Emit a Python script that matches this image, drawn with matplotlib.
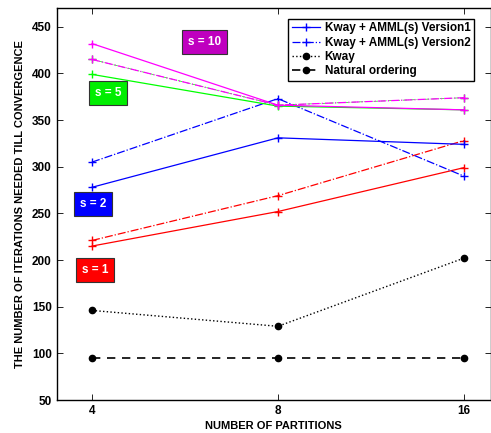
import matplotlib
matplotlib.use("Agg")
import matplotlib.pyplot as plt

# partitions shown at evenly spaced positions
partitions = ["4", "8", "16"]
xpos = [0, 1, 2]

# Kway + AMML(s), two versions, for s = 1, 2, 5, 10
v1_s1 = [215, 252, 299]
v2_s1 = [221, 269, 328]
v1_s2 = [278, 331, 324]
v2_s2 = [305, 373, 290]
v1_s5 = [399, 365, 361]
v2_s5 = [415, 366, 374]
v1_s10 = [432, 366, 361]
v2_s10 = [415, 366, 374]
kway = [146, 129, 202]
natural = [95, 95, 95]

s_labels = ["s = 1", "s = 2", "s = 5", "s = 10"]
s_colors = ["#ff0000", "#0000ff", "#00ee00", "#bf00bf"]
s_label_pos = [(0.016, 189), (0.006, 260), (0.085, 379), (0.604, 434)]

plt.rcParams["font.family"] = ["Liberation Sans", "DejaVu Sans"]
plt.rcParams["font.weight"] = "bold"

fig = plt.figure(figsize=(4.91, 4.33), dpi=100)
ax = fig.add_axes([0.1155, 0.0762, 0.884, 0.905])

line_cols = ["#ff0000", "#0000ff", "#00ff00", "#ff00ff"]
v1s = [v1_s1, v1_s2, v1_s5, v1_s10]
v2s = [v2_s1, v2_s2, v2_s5, v2_s10]
for i, (c, a, b) in enumerate(zip(line_cols, v1s, v2s)):
    lab1 = "Kway + AMML(s) Version1" if c == "#0000ff" else None
    lab2 = "Kway + AMML(s) Version2" if c == "#0000ff" else None
    ax.plot(xpos, a, "-", color=c, marker="+", ms=6, lw=0.9, label=lab1, zorder=2 + i * 0.1)
    # green version2 sits under the magenta one; keep it thin so magenta dominates
    ax.plot(xpos, b, "-.", color=c, marker="+", ms=6, lw=0.5 if i == 2 else 0.9,
            label=lab2, zorder=2 + i * 0.1)

ax.plot(xpos, kway, ":", color="black", marker="o", ms=4.5, lw=1.0, label="Kway")
ax.plot(xpos, natural, "--", color="black", marker="o", ms=4.5, lw=1.2,
        dashes=(5, 4), label="Natural ordering")

for txt, col, (tx, ty) in zip(s_labels, s_colors, s_label_pos):
    ax.text(tx, ty, txt, color="white", fontsize=8.5, fontweight="bold",
            ha="center", va="center",
            bbox=dict(boxstyle="square,pad=0.5", fc=col, ec="#333333", lw=0.8))

h, l = ax.get_legend_handles_labels()
ax.legend(h, l, loc="upper right", bbox_to_anchor=(0.975, 0.988),
          frameon=True, fancybox=False, edgecolor="black", framealpha=1,
          handlelength=2.4, handletextpad=0.4, borderpad=0.3, labelspacing=0.2,
          prop={"weight": "bold", "size": 8.5})

ax.set_xlim(-0.19, 2.145)
ax.set_ylim(50, 470)
ax.set_xticks(xpos)
ax.set_xticklabels(partitions)
ax.set_yticks(range(50, 451, 50))
ax.tick_params(direction="in", top=True, right=True, labelsize=8.5, length=4, width=0.6)
for lab in ax.get_xticklabels() + ax.get_yticklabels():
    lab.set_fontweight("bold")
for sp in ax.spines.values():
    sp.set_linewidth(1.0)

ax.set_xlabel("NUMBER OF PARTITIONS", fontsize=8, fontweight="bold", labelpad=3)
ax.set_ylabel("THE NUMBER OF ITERATIONS NEEDED TILL CONVERGENCE", fontsize=8,
              fontweight="bold", labelpad=5)

fig.savefig("out.png", dpi=100)
